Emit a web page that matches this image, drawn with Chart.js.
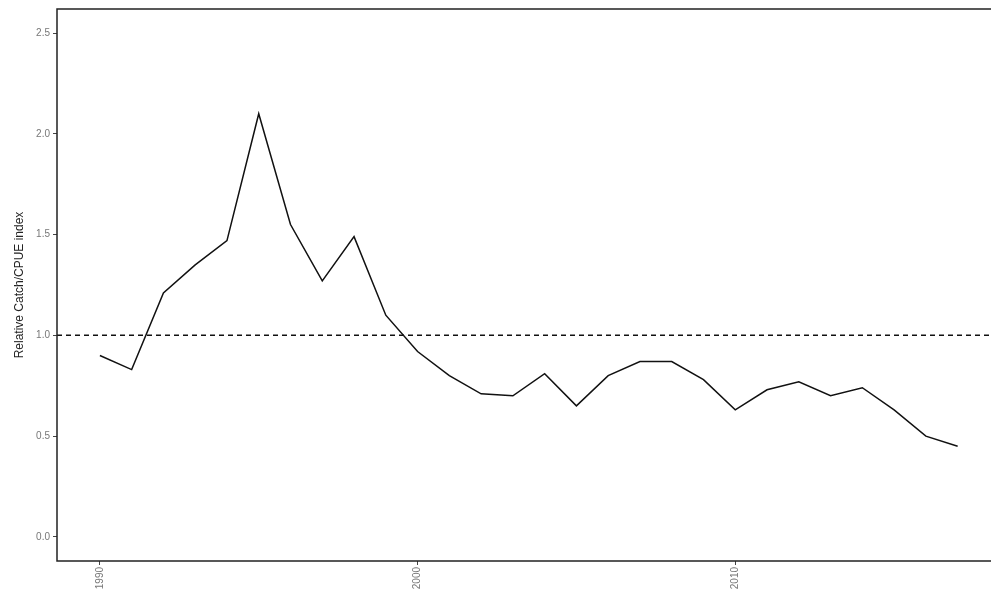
<!DOCTYPE html>
<html><head><meta charset="utf-8">
<script src="https://cdn.jsdelivr.net/npm/chart.js@4"></script>
<style>html,body{margin:0;padding:0;background:#fff;overflow:hidden}#w{width:991px;height:603px}</style>
</head><body><div id="w"><canvas id="c"></canvas></div>
<script>
const years = [1990,1991,1992,1993,1994,1995,1996,1997,1998,1999,2000,2001,2002,2003,2004,2005,2006,2007,2008,2009,2010,2011,2012,2013,2014,2015,2016,2017];
const index = [0.90,0.83,1.21,1.35,1.47,2.10,1.55,1.27,1.49,1.10,0.92,0.80,0.71,0.70,0.81,0.65,0.80,0.87,0.87,0.78,0.63,0.73,0.77,0.70,0.74,0.63,0.50,0.45];
const xTicks = [1990,2000,2010];
const yTicks = [0,0.5,1,1.5,2,2.5];
const refLevel = 1;
const xMin = 1988.65, xMax = 2018.05;

const frame = {id:'frame', afterDraw(ch){
  const {ctx, chartArea:a} = ch;
  ctx.save(); ctx.strokeStyle='#222'; ctx.lineWidth=1.5;
  ctx.beginPath();
  ctx.moveTo(a.right+5,a.top); ctx.lineTo(a.left,a.top); ctx.lineTo(a.left,a.bottom); ctx.lineTo(a.right+5,a.bottom);
  ctx.stroke(); ctx.restore();
}};

new Chart(document.getElementById('c'), {
  type:'line',
  data:{datasets:[
    {data:years.map((y,i)=>({x:y,y:index[i]})), borderColor:'#111', borderWidth:1.5, pointRadius:0, tension:0},
    {data:[{x:xMin,y:refLevel},{x:xMax,y:refLevel}], borderColor:'#111', borderWidth:1.5, borderDash:[5,4], pointRadius:0}
  ]},
  plugins:[frame],
  options:{
    responsive:true, maintainAspectRatio:false, animation:false,
    layout:{padding:{top:8,right:0,bottom:0,left:6}},
    plugins:{legend:{display:false}, tooltip:{enabled:false}},
    scales:{
      x:{type:'linear', min:xMin, max:xMax,
        afterBuildTicks(s){s.ticks = xTicks.map(v=>({value:v}));},
        afterFit(s){s.height=42;},
        grid:{display:true, drawOnChartArea:false, drawTicks:true, tickLength:4, color:'#444'},
        border:{display:false},
        ticks:{color:'#777', font:{family:'Liberation Sans', size:10}, minRotation:90, maxRotation:90, padding:2, callback:v=>String(v)}},
      y:{min:-0.12, max:2.62,
        afterBuildTicks(s){s.ticks = yTicks.map(v=>({value:v}));},
        afterFit(s){s.width=51;},
        grid:{display:true, drawOnChartArea:false, drawTicks:true, tickLength:4, color:'#444'},
        border:{display:false},
        title:{display:true, text:'Relative Catch/CPUE index', color:'#222', font:{family:'Liberation Sans', size:12}, padding:{top:6,bottom:4}},
        ticks:{color:'#777', font:{family:'Liberation Sans', size:10}, padding:3, callback:v=>v.toFixed(1)}}
    }
  }
});
</script></body></html>
